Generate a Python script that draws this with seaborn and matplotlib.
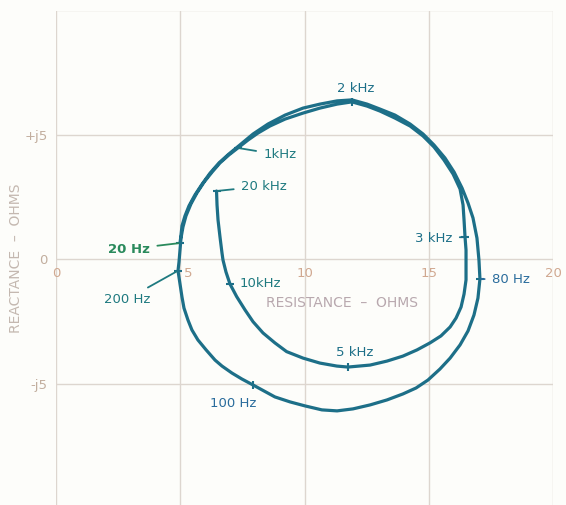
import matplotlib
matplotlib.use("Agg")
import matplotlib.pyplot as plt
import seaborn as sns
import pandas as pd

# ---- data ----
# low-frequency loop: 20 Hz -> 80 Hz -> 100 Hz -> 200 Hz
loop1_R = [4.99, 5.03, 5.07, 5.19, 5.35, 5.59, 5.88, 6.20, 6.56, 6.96, 7.40, 7.93,
           8.53, 9.22, 9.94, 10.62, 11.31, 11.91, 12.52, 13.04, 13.64, 14.25, 14.77,
           15.21, 15.65, 16.02, 16.34, 16.58, 16.78, 16.94, 17.02, 17.06, 16.98,
           16.82, 16.58, 16.26, 15.86, 15.45, 14.97, 14.49, 13.96, 13.32, 12.64,
           11.95, 11.31, 10.70, 10.02, 9.42, 8.81, 8.37, 7.93, 7.48, 7.08, 6.68,
           6.40, 6.04, 5.71, 5.47, 5.31, 5.15, 5.07, 4.99, 4.91]
loop1_X = [0.66, 0.98, 1.35, 1.75, 2.15, 2.59, 3.03, 3.47, 3.88, 4.24, 4.60, 5.04,
           5.44, 5.80, 6.08, 6.24, 6.37, 6.41, 6.24, 6.04, 5.80, 5.44, 5.04,
           4.60, 4.08, 3.51, 2.87, 2.27, 1.67, 0.86, -0.02, -0.78, -1.55,
           -2.23, -2.87, -3.43, -3.96, -4.40, -4.84, -5.16, -5.40, -5.64, -5.84,
           -6.00, -6.08, -6.04, -5.88, -5.72, -5.52, -5.28, -5.04, -4.80, -4.56, -4.28,
           -4.04, -3.63, -3.23, -2.83, -2.43, -1.95, -1.51, -0.98, -0.45]
# high-frequency loop: 200 Hz -> 1 kHz -> 2 kHz -> 3 kHz -> 5 kHz -> 10 kHz -> 20 kHz
loop2_R = [4.95, 4.99, 5.03, 5.11, 5.23, 5.43, 5.67, 5.96, 6.28, 6.60, 6.96, 7.32,
           7.73, 8.13, 8.61, 9.22, 9.94, 10.62, 11.31, 11.91, 12.52, 13.04, 13.64,
           14.25, 14.77, 15.21, 15.61, 15.98, 16.26, 16.38, 16.42, 16.46, 16.50,
           16.50, 16.50, 16.42, 16.30, 16.10, 15.86, 15.49, 15.05, 14.53, 13.96,
           13.32, 12.64, 11.75, 11.30, 10.62, 9.94, 9.28, 8.81, 8.33, 7.93, 7.61,
           7.27, 7.00, 6.84, 6.72, 6.68, 6.60, 6.52, 6.48, 6.46]
loop2_X = [-0.10, 0.38, 0.86, 1.31, 1.75, 2.23, 2.67, 3.11, 3.51, 3.88, 4.20, 4.48,
           4.80, 5.08, 5.36, 5.64, 5.88, 6.08, 6.24, 6.33, 6.16, 5.96, 5.68,
           5.36, 4.96, 4.52, 4.00, 3.43, 2.83, 2.19, 1.59, 0.90, 0.38,
           -0.22, -0.82, -1.39, -1.91, -2.35, -2.71, -3.07, -3.35, -3.63, -3.88,
           -4.08, -4.24, -4.32, -4.28, -4.16, -3.96, -3.70, -3.35, -2.95, -2.50, -2.03,
           -1.49, -0.98, -0.50, -0.02, 0.26, 0.90, 1.59, 2.19, 2.75]

freq_labels = ["20 Hz", "80 Hz", "100 Hz", "200 Hz", "1kHz", "2 kHz", "3 kHz",
               "5 kHz", "10kHz", "20 kHz"]
freq_R = [4.99, 17.06, 7.93, 4.91, 7.32, 11.91, 16.46, 11.75, 7.00, 6.46]
freq_X = [0.66, -0.78, -5.04, -0.45, 4.48, 6.33, 0.90, -4.32, -0.98, 2.75]

x_ticks = [0, 5, 10, 15, 20]
x_tick_labels = ["0", "5", "10", "15", "20"]
y_ticks = [-5, 0, 5]
y_tick_labels = ["-j5", "0", "+j5"]

# ---- figure ----
sns.set_style("white")
plt.rcParams["font.family"] = ["DejaVu Sans"]

bg = "#fdfdfa"
fig = plt.figure(figsize=(5.66, 5.05), dpi=100)
fig.patch.set_facecolor(bg)
ax = fig.add_axes([56 / 566, 0.0, 497 / 566, 494.5 / 505])
ax.set_facecolor(bg)

curve = pd.DataFrame({"R": loop1_R + loop2_R, "X": loop1_X + loop2_X})
sns.lineplot(data=curve, x="R", y="X", sort=False, ax=ax, color="#1d6f88",
             linewidth=2.3, estimator=None)
for ln in ax.get_lines():
    ln.set_solid_joinstyle("round")
    ln.set_solid_capstyle("round")

ax.set_xlim(0, 20)
ax.set_ylim(-9.86, 10)

grid_col = "#ddd6cf"
for gx in [0, 5, 10, 15, 20]:
    ax.axvline(gx, color=grid_col, lw=1.0, zorder=0)
for gy in [-10, -5, 0, 5, 10]:
    ax.axhline(gy, color=grid_col, lw=1.0, zorder=0)
for s in ax.spines.values():
    s.set_visible(False)

ax.set_xticks([])
ax.set_yticks(y_ticks)
ax.set_yticklabels(y_tick_labels, color="#c2ae9e", fontsize=9.5)
ax.tick_params(axis="y", length=0, pad=6)
ax.set_xlabel("")
ax.set_ylabel("")
fig.text(16 / 566, 1 - 258 / 505, "REACTANCE  –  OHMS", color="#c4b8b0",
         fontsize=10, rotation=90, ha="center", va="center")

for xv, lab in zip(x_ticks, x_tick_labels):
    shift = 0.3 if xv == 5 else 0.0
    ax.text(xv + shift, -0.58, lab, color="#d0a890", fontsize=9.5,
            ha="center", va="center")

ax.text(11.5, -1.75, "RESISTANCE  –  OHMS", color="#b8a8ae", fontsize=10,
        ha="center", va="center")

# frequency markers and labels
label_style = {
    "20 Hz": dict(xytext=(3.78, 0.42), ha="right", color="#2a8a5c", leader=True, mk="_", fw="bold"),
    "80 Hz": dict(xytext=(17.55, -0.82), ha="left", color="#2a6c9c", leader=True, mk="_", fw="normal"),
    "100 Hz": dict(xytext=(7.12, -5.8), ha="center", color="#2a6c9c", leader=False, mk="|", fw="normal"),
    "200 Hz": dict(xytext=(3.78, -1.6), ha="right", color="#1f7a80", leader=True, mk="_", fw="normal"),
    "1kHz": dict(xytext=(8.35, 4.2), ha="left", color="#1f7a80", leader=True, mk="_", fw="normal"),
    "2 kHz": dict(xytext=(12.07, 6.85), ha="center", color="#1d6f88", leader=False, mk="|", fw="normal"),
    "3 kHz": dict(xytext=(15.95, 0.86), ha="right", color="#1d6f88", leader=True, mk="_", fw="normal"),
    "5 kHz": dict(xytext=(12.0, -3.72), ha="center", color="#1d6f88", leader=False, mk="|", fw="normal"),
    "10kHz": dict(xytext=(7.4, -0.98), ha="left", color="#1f7a80", leader=False, mk="_", fw="normal"),
    "20 kHz": dict(xytext=(7.45, 2.95), ha="left", color="#1f7a80", leader=True, mk="_", fw="normal"),
}

for lab, r, x in zip(freq_labels, freq_R, freq_X):
    st = label_style[lab]
    ax.plot([r], [x], marker=st["mk"], color="#1d6f88", markersize=6, mew=1.5)
    ap = dict(arrowstyle="-", color=st["color"], lw=1.3, shrinkA=3, shrinkB=1) if st["leader"] else None
    ax.annotate(lab, xy=(r, x), xytext=st["xytext"], ha=st["ha"], va="center",
                color=st["color"], fontsize=9.5, fontweight=st["fw"], arrowprops=ap)

fig.savefig("out.png", dpi=100, facecolor=fig.get_facecolor())
